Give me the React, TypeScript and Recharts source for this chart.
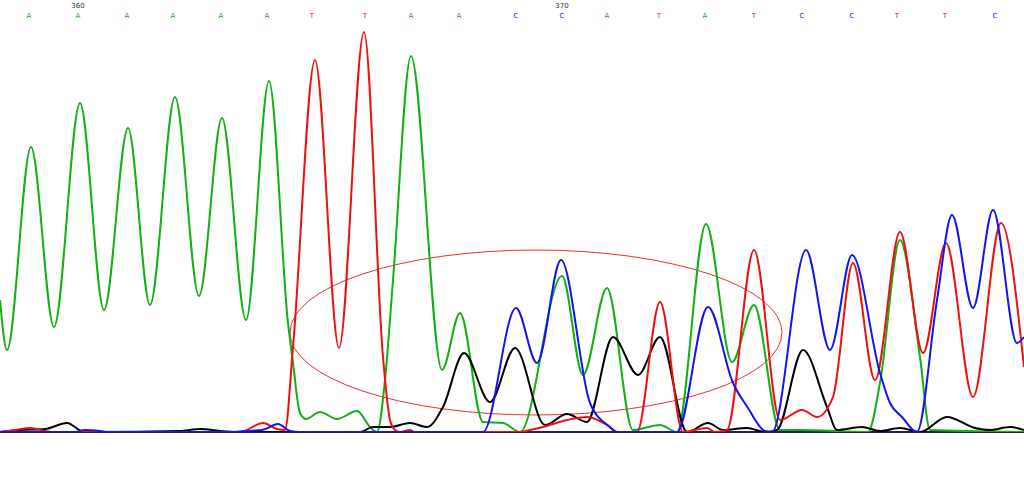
import React from "react";
import { LineChart, Line, XAxis, YAxis, ReferenceLine, ReferenceArea } from "recharts";

// Scan positions (x) and signal heights (v)
const traceA: [number, number][] = [
  [0, 132], [7, 82], [31, 285], [54, 105], [80, 329], [104, 122], [128, 304], [150, 127],
  [175, 335], [199, 136], [222, 314], [246, 112], [269, 351], [288, 109], [293, 69], [300, 19],
  [306, 13], [320, 20], [337, 13], [357, 21], [370, 5], [377, 0], [385, 52], [393, 152],
  [411, 376], [442, 62], [460, 119], [483, 10], [503, 9], [520, 0], [562, 156], [583, 57],
  [607, 144], [633, 2], [660, 7], [677, 0], [706, 208], [732, 70], [754, 127], [780, 2],
  [800, 2], [868, 0], [880, 49], [900, 192], [920, 75], [930, 2], [1024, 0],
];

const traceC: [number, number][] = [
  [0, 0], [75, 0], [85, 2], [100, 1], [108, 0], [230, 0], [245, 1], [262, 2], [278, 8],
  [290, 1], [300, 0], [483, 0], [516, 124], [537, 69], [561, 172], [590, 29], [610, 5],
  [617, 0], [677, 0], [708, 125], [733, 49], [748, 24], [765, 1], [772, 0], [806, 182],
  [830, 82], [852, 177], [880, 59], [890, 29], [902, 15], [917, 0], [937, 132], [952, 217],
  [973, 124], [993, 222], [1017, 89], [1024, 95],
];

const traceG: [number, number][] = [
  [0, 0], [20, 2], [45, 3], [67, 9], [82, 1], [95, 0], [180, 1], [200, 3], [220, 1], [240, 0],
  [360, 0], [373, 5], [390, 5], [410, 9], [427, 5], [443, 25], [464, 79], [490, 30], [515, 84],
  [545, 7], [567, 18], [587, 10], [613, 95], [638, 57], [660, 95], [687, 0], [708, 9], [723, 2],
  [747, 4], [765, 0], [777, 2], [803, 82], [827, 25], [837, 2], [862, 5], [880, 1], [900, 4],
  [920, 0], [947, 15], [975, 4], [990, 2], [1010, 5], [1024, 2],
];

const traceT: [number, number][] = [
  [0, 0], [15, 2], [30, 4], [45, 1], [55, 0], [240, 0], [263, 9], [277, 3], [285, 2], [293, 85],
  [315, 372], [339, 84], [364, 400], [383, 75], [390, 12], [395, 2], [400, 0], [410, 2], [415, 0],
  [520, 0], [530, 2], [543, 5], [567, 12], [587, 15], [607, 7], [617, 0], [637, 0], [660, 130],
  [683, 0], [707, 4], [715, 0], [727, 2], [754, 182], [780, 12], [802, 22], [817, 15], [833, 35],
  [853, 169], [875, 52], [900, 200], [923, 79], [946, 189], [973, 35], [1001, 209], [1024, 65],
];

const baseCalls = ["A", "A", "A", "A", "A", "A", "T", "T", "A", "A", "C", "C", "A", "T", "A", "T", "C", "C", "T", "T", "C"];
const basePositions = [29, 78, 127, 173, 221, 267, 312, 365, 411, 459, 516, 562, 607, 659, 705, 754, 802, 852, 897, 945, 995];
const positionNumbers: Record<number, string> = { 1: "360", 11: "370" };

// highlighted region (scan range / signal range)
const highlightX = [290, 782];
const highlightV = [17, 182];

const baseColors: Record<string, string> = {
  A: "#12b012",
  C: "#1414f0",
  G: "#000000",
  T: "#f01010",
};

const toRows = (pts: [number, number][]) => pts.map(([x, v]) => ({ x, v }));

const BaseTick = (props: any) => {
  const { x, y, payload } = props;
  const idx = basePositions.indexOf(payload.value);
  const letter = baseCalls[idx] ?? "";
  const num = positionNumbers[idx];
  return (
    <g>
      {num && (
        <text x={x} y={y - 12} textAnchor="middle" fontSize={7} fill="#333" fontFamily="DejaVu Sans, sans-serif">
          {num}
        </text>
      )}
      <text x={x} y={y - 2} textAnchor="middle" fontSize={7} fill={baseColors[letter]} fontFamily="DejaVu Sans, sans-serif">
        {letter}
      </text>
    </g>
  );
};

const EllipseShape = (props: any) => {
  const { x, y, width, height } = props;
  return (
    <ellipse
      cx={x + width / 2}
      cy={y + height / 2}
      rx={width / 2}
      ry={height / 2}
      fill="none"
      stroke="#e83030"
      strokeWidth={1}
    />
  );
};

export default function App() {
  return (
    <div style={{ position: "absolute", left: 0, top: 0, width: 1024, height: 489, background: "#fff" }}>
      <LineChart width={1024} height={489} margin={{ top: 0, right: 0, bottom: 57, left: 0 }}>
        <XAxis
          dataKey="x"
          type="number"
          orientation="top"
          domain={[0, 1024]}
          ticks={basePositions}
          height={20}
          axisLine={false}
          tickLine={false}
          tickSize={0}
          tickMargin={0}
          interval={0}
          tick={<BaseTick />}
          allowDataOverflow
        />
        <YAxis hide type="number" domain={[0, 412]} allowDataOverflow />
        <ReferenceLine y={0} stroke="#20205a" strokeWidth={2} />
        <Line data={toRows(traceA)} dataKey="v" type="monotone" stroke={baseColors.A} strokeWidth={2} dot={false} isAnimationActive={false} />
        <Line data={toRows(traceG)} dataKey="v" type="monotone" stroke={baseColors.G} strokeWidth={2} dot={false} isAnimationActive={false} />
        <Line data={toRows(traceT)} dataKey="v" type="monotone" stroke={baseColors.T} strokeWidth={2} dot={false} isAnimationActive={false} />
        <Line data={toRows(traceC)} dataKey="v" type="monotone" stroke={baseColors.C} strokeWidth={2} dot={false} isAnimationActive={false} />
        <ReferenceArea
          x1={highlightX[0]}
          x2={highlightX[1]}
          y1={highlightV[0]}
          y2={highlightV[1]}
          shape={<EllipseShape />}
        />
      </LineChart>
    </div>
  );
}
